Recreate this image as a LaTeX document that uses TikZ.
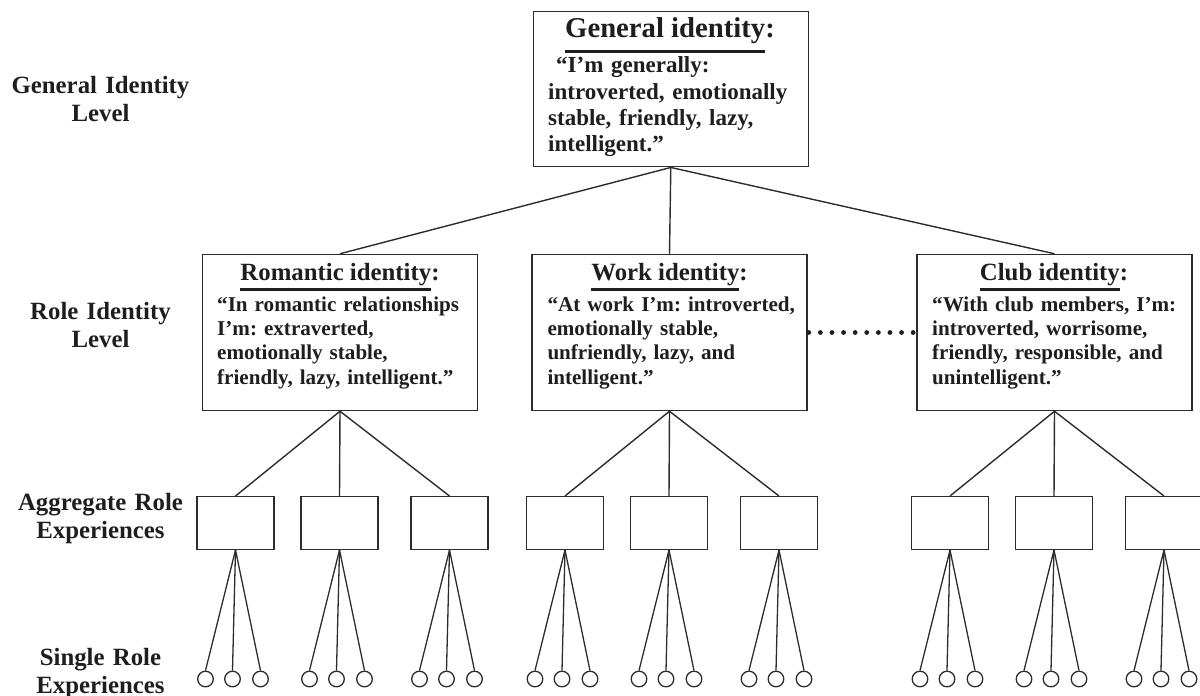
\documentclass[tikz,border=0pt]{standalone}
\usepackage{fontspec}
\setmainfont{Liberation Serif}
\frenchspacing
\definecolor{ink}{HTML}{1E1E1E}
\definecolor{edge}{HTML}{2C2C2C}
% underline a title word group, #1 = drop of the rule below the baseline
\newcommand\ulinetitle[2]{\setbox0\hbox{#2}\leavevmode\rlap{\rule[-#1]{\wd0}{2.3pt}}\box0}
\tikzset{
  idbox/.style={draw=edge, line width=1.5pt, rectangle, inner sep=0pt,
    minimum width=275pt, minimum height=156pt},
  aggbox/.style={draw=edge, line width=1.4pt, rectangle, inner sep=0pt,
    minimum width=77pt, minimum height=52.6pt},
  leaf/.style={draw=edge, line width=1.3pt, circle, inner sep=0pt, minimum size=15.6pt},
  link/.style={draw=edge, line width=1.4pt},
  dots/.style={draw=ink, line width=4.8pt, line cap=round, dash pattern=on 0pt off 11.6pt},
  lvl/.style={text=ink, anchor=base, text width=220pt, align=center, inner sep=0pt,
    font=\fontsize{24.8}{28}\selectfont\bfseries},
  bigtitle/.style={text=ink, anchor=base, inner sep=0pt,
    font=\fontsize{28.7}{32}\selectfont\bfseries},
  roletitle/.style={text=ink, anchor=base, inner sep=0pt,
    font=\fontsize{24.8}{28}\selectfont\bfseries},
  genbody/.style={text=ink, anchor=base west, text width=255pt, align=left, inner sep=0pt,
    font=\fontsize{23}{26.3}\selectfont\bfseries},
  rolebody/.style={text=ink, anchor=base west, text width=262pt, align=left, inner sep=0pt,
    font=\fontsize{21.1}{24.4}\selectfont\bfseries},
}
\begin{document}
\begin{tikzpicture}[x=1pt, y=-1pt]
\useasboundingbox (0,0) rectangle (1200,696);

% level labels
\node[lvl] (lgen)  at (100.5,93)  {General Identity\\Level};
\node[lvl] (lrole) at (100.5,319) {Role Identity\\Level};
\node[lvl] (lagg)  at (100.5,510) {Aggregate Role\\Experiences};
\node[lvl] (lsing) at (100.5,665) {Single Role\\Experiences};

% general identity
\node[idbox, minimum height=155pt] (gen) at (670.8,89.2) {};
\node[bigtitle] (gent) at (670,37.3) {\ulinetitle{15.4pt}{General identity}:};
\node[genbody] (genb) at (548,72.7)
  {\hspace*{8pt}“I’m generally:\\introverted, emotionally\\stable, friendly, lazy,\\intelligent.”};

% role identities
\node[idbox] (rom)  at (340,332.5)    {};
\node[idbox] (work) at (669.5,332.5)  {};
\node[idbox] (club) at (1054.5,332.5) {};

\node[roletitle] (romt)  at (340,280)  {\ulinetitle{10.5pt}{Romantic identity}:};
\node[roletitle] (workt) at (669.5,280) {\ulinetitle{10.5pt}{Work identity}:};
\node[roletitle] (clubt) at (1054,280) {\ulinetitle{10.5pt}{Club identity}:};

\node[rolebody] (romb) at (217,311)
  {“In romantic relationships\\I’m: extraverted,\\emotionally stable,\\friendly, lazy, intelligent.”};
\node[rolebody] (workb) at (547.3,311)
  {“At work I’m: introverted,\\emotionally stable,\\unfriendly, lazy, and\\intelligent.”};
\node[rolebody] (clubb) at (932,311)
  {“With club members, I’m:\\introverted, worrisome,\\friendly, responsible, and\\unintelligent.”};

\draw[link] (gen.south) -- (rom.north);
\draw[link] (gen.south) -- (work.north);
\draw[link] (gen.south) -- (club.north);

\draw[dots] ([xshift=1pt]work.east) -- (club.west);

% aggregate role experiences and single role experiences
\foreach \r/\cx in {rom/340, work/669.5, club/1054.5}{
  \foreach \i/\off in {1/-104.5, 2/-0.5, 3/109.5}{
    \node[aggbox] (\r-\i) at ({\cx+\off},523) {};
    \draw[link] (\r.south) -- (\r-\i.north);
    \foreach \j/\co in {1/-30, 2/-3, 3/25}{
      \node[leaf] (\r-\i-\j) at ({\cx+\off+\co},679) {};
      \draw[link, line width=1.3pt] (\r-\i.south) -- (\r-\i-\j.north);
    }
  }
}
\end{tikzpicture}
\end{document}
